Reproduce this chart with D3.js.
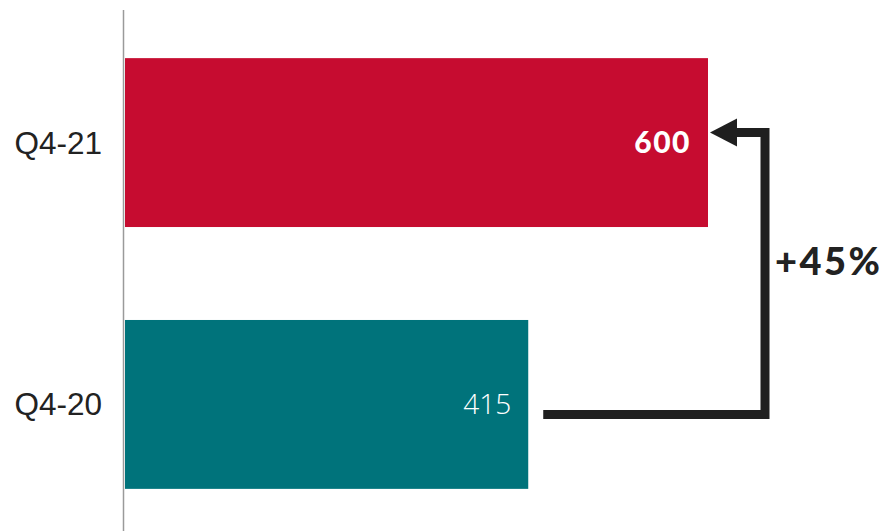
<!doctype html>
<html>
<meta charset="utf-8">
<head>
<script src="https://cdn.jsdelivr.net/npm/d3@7"></script>
<style>
  body { margin: 0; background: #fff; }
  .cat { font-family: "Liberation Sans", Arial, sans-serif; font-size: 31.5px; fill: #222; }
</style>
</head>
<body>
<script>
var width = 887, height = 531;

// data
var quarters = ["Q4-21", "Q4-20"];
var values = [600, 415];
var barColors = ["#C60C30", "#00737B"];

var svg = d3.select("body").append("svg")
  .attr("width", width)
  .attr("height", height);

var x = d3.scaleLinear()
  .domain([0, 600])
  .range([125, 708]);

var y = d3.scaleBand()
  .domain(quarters)
  .range([11, 536])
  .paddingInner(0.355)
  .paddingOuter(0.18);

// bars
svg.selectAll("rect.bar")
  .data(quarters)
  .enter().append("rect")
  .attr("class", "bar")
  .attr("x", x(0))
  .attr("y", function(d) { return y(d); })
  .attr("width", function(d, i) { return x(values[i]) - x(0); })
  .attr("height", y.bandwidth())
  .style("fill", function(d, i) { return barColors[i]; });

// axis line
svg.append("line")
  .attr("x1", 123.5).attr("x2", 123.5)
  .attr("y1", 10).attr("y2", height)
  .style("stroke", "#9a9a9a")
  .style("stroke-width", 1.5);

// category labels
svg.selectAll("text.cat")
  .data(quarters)
  .enter().append("text")
  .attr("class", "cat")
  .attr("x", 102)
  .attr("y", function(d) { return y(d) + y.bandwidth() / 2 + 11; })
  .attr("text-anchor", "end")
  .text(function(d) { return d; });

// value labels
svg.selectAll("text.val")
  .data(quarters)
  .enter().append("text")
  .attr("class", "val")
  .attr("x", function(d, i) { return x(values[i]) - 17; })
  .attr("y", function(d) { return y(d) + y.bandwidth() / 2 + 10; })
  .attr("text-anchor", "end")
  .style("fill", "#fff")
  .style("font-family", function(d, i) { return i == 0 ? "Lato, sans-serif" : "'Open Sans', sans-serif"; })
  .style("font-weight", function(d, i) { return i == 0 ? "900" : "300"; })
  .style("font-size", function(d, i) { return i == 0 ? "30px" : "28px"; })
  .style("letter-spacing", function(d, i) { return i == 0 ? "1.5px" : "0px"; })
  .text(function(d, i) { return values[i]; });

// growth arrow from Q4-20 bar to Q4-21 bar
var yTop = y(quarters[0]) + y.bandwidth() / 2 - 10,
    yBot = y(quarters[1]) + y.bandwidth() / 2 + 10,
    xStart = x(values[1]) + 15,
    xTip = x(values[0]) + 2,
    xVert = x(values[0]) + 57,
    headLen = 27, headW = 14;

svg.append("path")
  .attr("d", "M" + xStart + "," + yBot + "H" + xVert + "V" + yTop + "H" + (xTip + headLen - 2))
  .style("fill", "none")
  .style("stroke", "#1f1f1f")
  .style("stroke-width", 9)
  .style("stroke-linejoin", "miter");

svg.append("path")
  .attr("d", "M" + xTip + "," + yTop + "L" + (xTip + headLen) + "," + (yTop - headW) +
    "L" + (xTip + headLen) + "," + (yTop + headW) + "Z")
  .style("fill", "#1f1f1f");

var pct = Math.round((values[0] / values[1] - 1) * 100);
svg.append("text")
  .attr("x", xVert + 10)
  .attr("y", (yTop + yBot) / 2 + 1)
  .style("font-family", "Lato, sans-serif")
  .style("font-weight", "900")
  .style("font-size", "38px")
  .style("letter-spacing", "2.5px")
  .style("fill", "#222")
  .text("+" + pct + "%");
</script>
</body>
</html>
